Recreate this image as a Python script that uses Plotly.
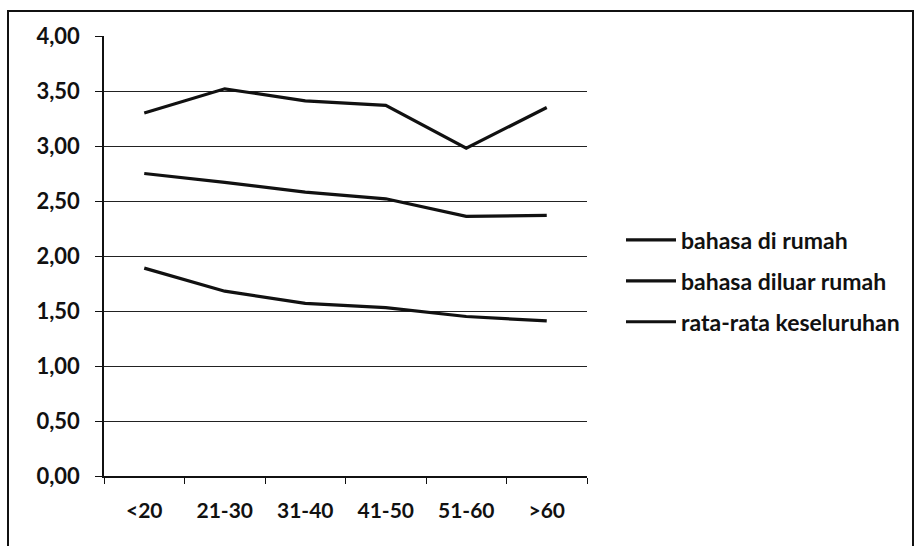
import plotly.graph_objects as go

categories = ["<20", "21-30", "31-40", "41-50", "51-60", ">60"]
bahasa_di_rumah = [3.30, 3.52, 3.41, 3.37, 2.98, 3.35]
rata_rata = [2.75, 2.67, 2.58, 2.52, 2.36, 2.37]
bahasa_diluar_rumah = [1.89, 1.68, 1.57, 1.53, 1.45, 1.41]
series_names = ["bahasa di rumah", "bahasa diluar rumah", "rata-rata keseluruhan"]

FONT = "Lato"
fig = go.Figure()
for i, (name, vals) in enumerate(zip(series_names, [bahasa_di_rumah, bahasa_diluar_rumah, rata_rata])):
    fig.add_trace(go.Scatter(
        x=categories, y=vals, mode="lines", name=name,
        line=dict(color="#111111", width=3.2),
        legendgroup=f"g{i}",
    ))

W, H = 922, 546
L, R, T, B = 104, 587, 36, 476
pw, ph = R - L, B - T

def px_x(x):
    return (x - L) / pw

def px_y(y):
    return (B - y) / ph

fig.update_layout(
    width=W, height=H,
    margin=dict(l=L, r=W - R, t=T, b=H - B),
    paper_bgcolor="white", plot_bgcolor="white",
    separators=",.",
    font=dict(family=FONT, size=19, color="#111111"),
    showlegend=True,
    legend=dict(
        x=px_x(621), y=px_y(281), xanchor="left", yanchor="middle",
        font=dict(family=FONT, size=23, color="#111111", weight=700),
        tracegroupgap=8, bgcolor="rgba(0,0,0,0)", itemwidth=50,
    ),
    xaxis=dict(
        type="category", tickson="boundaries", ticks="outside", ticklen=6,
        tickcolor="#111111", showline=True, linecolor="#111111", linewidth=1.5,
        showgrid=False, tickfont=dict(family=FONT, size=21, color="#111111", weight=700),
        range=[-0.5, 5.5], ticklabelstandoff=15,
    ),
    yaxis=dict(
        range=[0, 4], dtick=0.5, tickformat=".2f", ticks="outside", ticklen=7,
        tickcolor="#111111", showline=True, linecolor="#111111", linewidth=1.5,
        showgrid=True, gridcolor="#222222", gridwidth=1.2, zeroline=False,
        tickfont=dict(family=FONT, size=22, color="#111111", weight=700),
        ticklabelstandoff=11,
    ),
    shapes=[dict(
        type="rect", xref="paper", yref="paper",
        x0=px_x(8), x1=px_x(913), y0=px_y(600), y1=px_y(11),
        line=dict(color="#111111", width=2), fillcolor="rgba(0,0,0,0)", layer="below",
    )],
)

fig.write_html("out.html")
